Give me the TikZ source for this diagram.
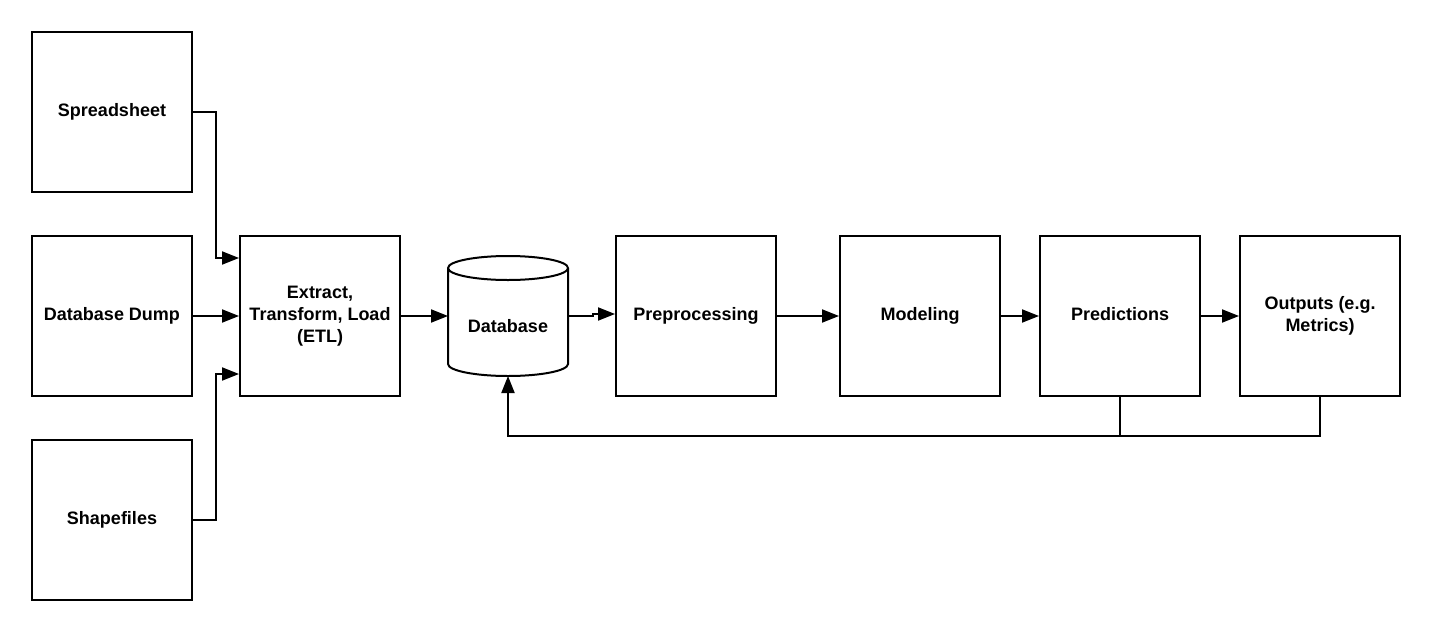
\documentclass[tikz,border=0pt]{standalone}
\usepackage{fontspec}
\setmainfont{Liberation Sans}
\usetikzlibrary{arrows.meta}
\begin{document}
\begin{tikzpicture}[x=1pt,y=-1pt,
  lbl/.style={inner sep=0pt,align=center,font=\bfseries\fontsize{18}{22}\selectfont},
  box/.style={lbl,draw,line width=2pt,minimum width=160pt,minimum height=160pt},
  conn/.style={line width=2pt,-{Triangle[length=17pt,width=13pt]}},
  plain/.style={line width=2pt}]
\useasboundingbox (0,0) rectangle (1440,640);
\node[box] (ss) at (112,112) {Spreadsheet};
\node[box] (dd) at (112,316) {Database Dump};
\node[box] (sf) at (112,520) {Shapefiles};
\node[box] (etl) at (320,316) {Extract,\\Transform, Load\\(ETL)};
\draw[line width=2pt] (448,268) arc[start angle=180,end angle=0,x radius=60,y radius=12]
  arc[start angle=0,end angle=-180,x radius=60,y radius=12]
  -- (448,364) arc[start angle=180,end angle=0,x radius=60,y radius=12] -- (568,268);
\node[lbl,anchor=base] (dbtxt) at (508,332) {Database};
\coordinate (dbW) at (448,316);
\coordinate (dbE) at (568,316);
\coordinate (dbS) at (508,376);
\node[box] (pre) at (696,316) {};
\node[box] (mod) at (920,316) {};
\node[box] (pred) at (1120,316) {};
\node[box] (out) at (1320,316) {};
\node[lbl,anchor=base] (pret) at (696,320) {Preprocessing};
\node[lbl,anchor=base] (modt) at (920,320) {Modeling};
\node[lbl,anchor=base] (predt) at (1120,320) {Predictions};
\node[lbl,anchor=base] (outt) at (1320,331) {Outputs (e.g.\\Metrics)};
\draw[conn] (ss.east) -- (216,112) |- ([yshift=58pt]etl.west);
\draw[conn] (sf.east) -- (216,520) |- ([yshift=-58pt]etl.west);
\draw[conn] (dd.east) -- (etl.west);
\draw[conn] (etl.east) -- (dbW);
\draw[conn] (dbE) -- (593,316) -- (593,314) -- (pre.west |- 0,314);
\draw[conn] (pre.east) -- (mod.west);
\draw[conn] (mod.east) -- (pred.west);
\draw[conn] (pred.east) -- (out.west);
\coordinate (fb) at (1120,436);
\draw[plain] (pred.south) -- (fb);
\draw[conn] (out.south) |- (fb) -- (508,436) -- (dbS);
\end{tikzpicture}
\end{document}
